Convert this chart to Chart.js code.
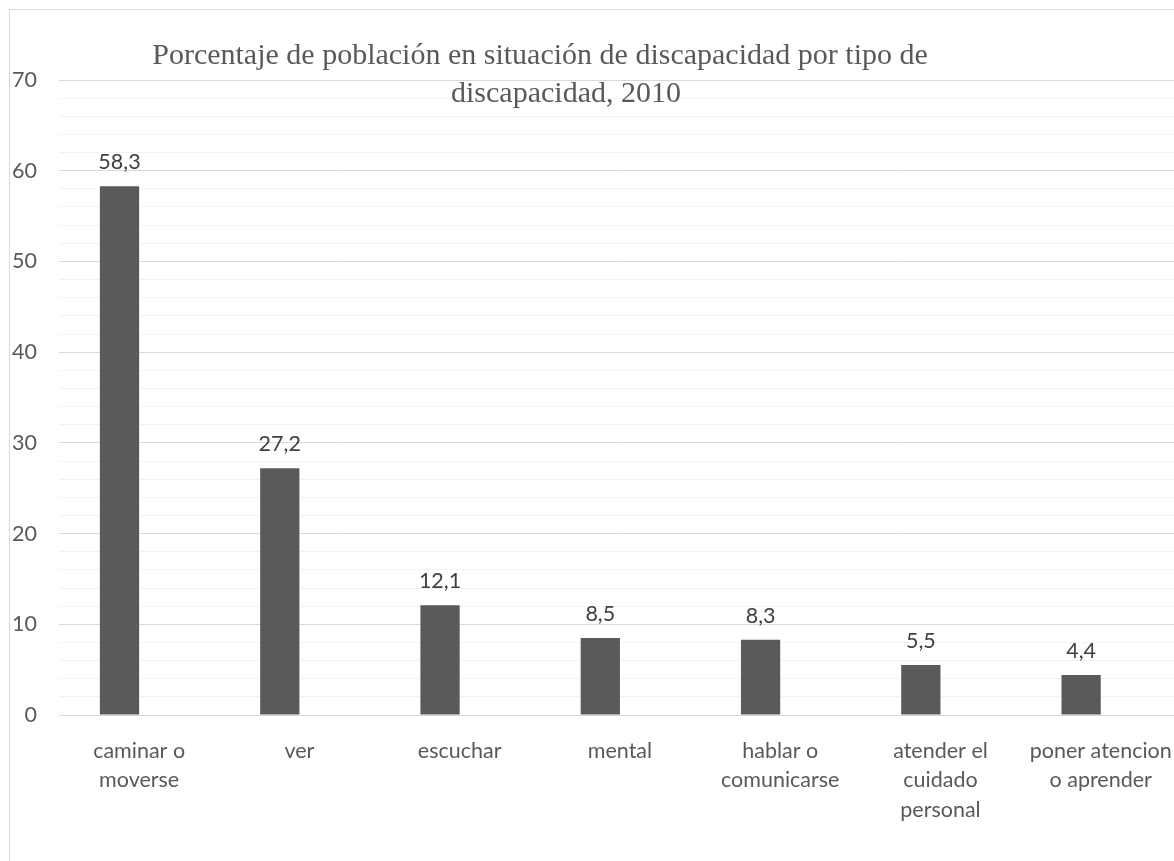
<!DOCTYPE html>
<html>
<head>
<meta charset="utf-8">
<script src="https://cdn.jsdelivr.net/npm/chart.js@4"></script>
<style>
  html, body { margin: 0; padding: 0; background: #ffffff; overflow: hidden; width: 1174px; height: 861px; }
  #wrap { position: absolute; left: 0; top: 0; width: 1194px; height: 861px; }
  #frame { position: absolute; left: 9px; top: 9px; width: 1200px; height: 900px; border-left: 1px solid #d9d9d9; border-top: 1px solid #d9d9d9; pointer-events: none; }
</style>
</head>
<body>
<div id="wrap"><canvas id="c" width="1194" height="861"></canvas></div>
<div id="frame"></div>
<script>
const categories = [
  ["caminar o", "moverse"],
  ["ver"],
  ["escuchar"],
  ["mental"],
  ["hablar o", "comunicarse"],
  ["atender el", "cuidado", "personal"],
  ["poner atencion", "o aprender"]
];
const values = [58.3, 27.2, 12.1, 8.5, 8.3, 5.5, 4.4];
const emptySeries = [null, null, null, null, null, null, null];
const titleLines = ["Porcentaje de población en situación de discapacidad por tipo de", "discapacidad, 2010"];

const SANS = "Lato, 'Open Sans', sans-serif";
const FS = 21.5;

const labelPlugin = {
  id: 'valueLabels',
  afterDatasetsDraw(chart) {
    const ctx = chart.ctx;
    const meta = chart.getDatasetMeta(0);
    ctx.save();
    ctx.font = FS + "px " + SANS;
    ctx.fillStyle = "#404040";
    ctx.textAlign = "center";
    ctx.textBaseline = "alphabetic";
    meta.data.forEach((bar, i) => {
      const txt = values[i].toFixed(1).replace('.', ',');
      ctx.fillText(txt, bar.x, bar.y - 17);
    });
    ctx.restore();
  }
};

const titlePlugin = {
  id: 'serifTitle',
  afterDraw(chart) {
    const ctx = chart.ctx;
    ctx.save();
    ctx.font = "30px 'Liberation Serif', 'DejaVu Serif', serif";
    ctx.fillStyle = "#595959";
    ctx.textAlign = "center";
    ctx.textBaseline = "alphabetic";
    ctx.fillText(titleLines[0], 540, 64);
    ctx.fillText(titleLines[1], 566, 102);
    ctx.restore();
  }
};

new Chart(document.getElementById('c'), {
  type: 'bar',
  data: {
    labels: categories,
    datasets: [
      { data: values, backgroundColor: '#5a5a5a', borderWidth: 0 },
      { data: emptySeries, backgroundColor: '#a5a5a5', borderWidth: 0 }
    ]
  },
  options: {
    responsive: false,
    animation: false,
    events: [],
    categoryPercentage: 0.49,
    barPercentage: 1.0,
    layout: { padding: { left: 0, right: 3, top: 80, bottom: 0 } },
    plugins: {
      legend: { display: false },
      title: { display: false },
      tooltip: { enabled: false }
    },
    scales: {
      x: {
        grid: { display: false, drawTicks: false },
        border: { display: false },
        ticks: {
          color: '#595959',
          font: { family: SANS, size: FS, lineHeight: 1.35 },
          padding: 22,
          maxRotation: 0,
          minRotation: 0,
          autoSkip: false
        },
        afterFit(scale) { scale.height = 146; }
      },
      y: {
        min: 0,
        max: 70,
        grid: {
          drawTicks: false,
          lineWidth: 1,
          color: (c) => (c.tick && c.tick.value % 10 === 0) ? '#d9d9d9' : '#f2f2f2'
        },
        border: { display: false },
        ticks: {
          stepSize: 2,
          autoSkip: false,
          color: '#595959',
          font: { family: SANS, size: FS },
          padding: 22,
          callback: (v) => (v % 10 === 0 ? String(v) : '')
        },
        afterFit(scale) { scale.width = 59; }
      }
    }
  },
  plugins: [labelPlugin, titlePlugin]
});
</script>
</body>
</html>
